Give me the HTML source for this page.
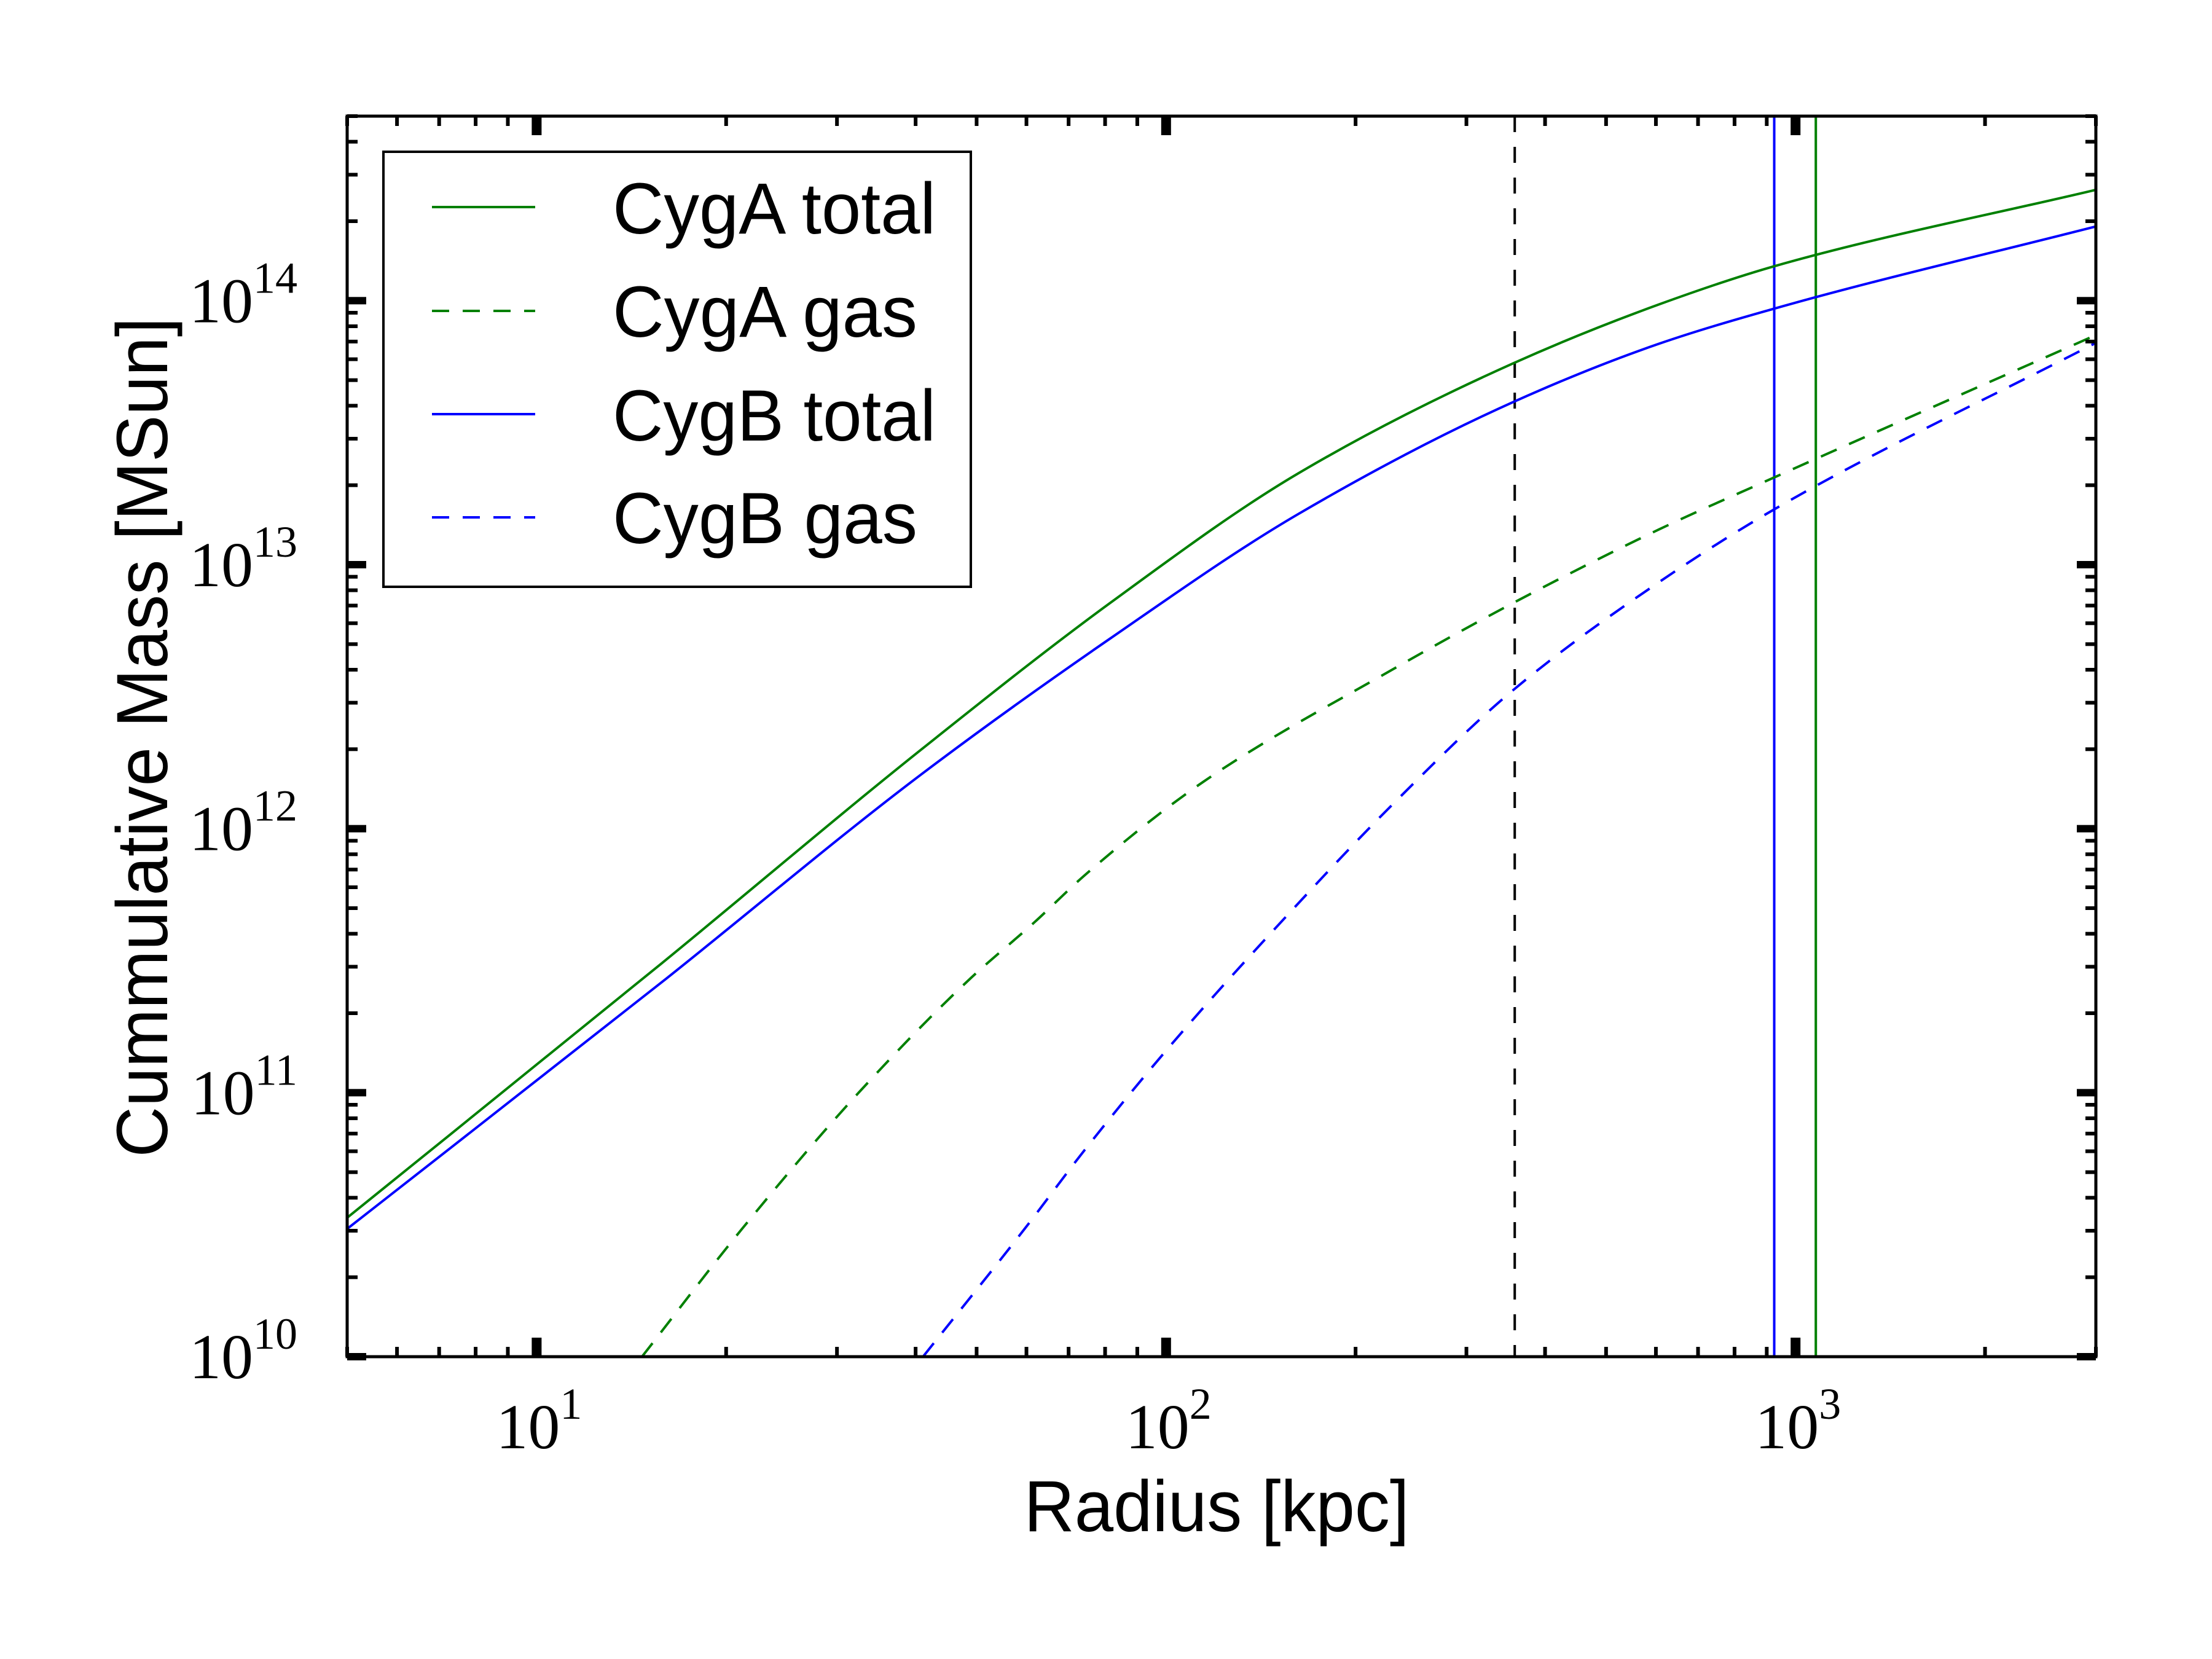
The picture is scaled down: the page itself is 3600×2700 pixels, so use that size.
<!DOCTYPE html>
<html><head><meta charset="utf-8"><style>
html,body{margin:0;padding:0;background:#fff;}
svg{display:block;}
</style></head><body>
<svg id="chart" width="3600" height="2700" viewBox="0 0 3600 2700" xmlns="http://www.w3.org/2000/svg">
<rect x="0" y="0" width="3600" height="2700" fill="#fff"/>
<defs><clipPath id="plotclip"><rect x="565" y="189" width="2846" height="2019"/></clipPath></defs>
<g id="marks" clip-path="url(#plotclip)"></g>
<g id="axes"></g>
<g id="legend">
  <rect x="624" y="247" width="956" height="708" fill="#fff" stroke="#000" stroke-width="4"/>
  <line x1="703" y1="337" x2="871" y2="337" stroke="#008000" stroke-width="4"/>
  <text x="997" y="380" font-family="Liberation Sans, sans-serif" font-size="118" textLength="526" lengthAdjust="spacingAndGlyphs">CygA total</text>
  <line x1="703" y1="506" x2="871" y2="506" stroke="#008000" stroke-width="4" stroke-dasharray="28,22"/>
  <text x="997" y="548" font-family="Liberation Sans, sans-serif" font-size="118" textLength="496" lengthAdjust="spacingAndGlyphs">CygA gas</text>
  <line x1="703" y1="674" x2="871" y2="674" stroke="#0000ff" stroke-width="4"/>
  <text x="997" y="717" font-family="Liberation Sans, sans-serif" font-size="118" textLength="526" lengthAdjust="spacingAndGlyphs">CygB total</text>
  <line x1="703" y1="842" x2="871" y2="842" stroke="#0000ff" stroke-width="4" stroke-dasharray="28,22"/>
  <text x="997" y="884" font-family="Liberation Sans, sans-serif" font-size="118" textLength="496" lengthAdjust="spacingAndGlyphs">CygB gas</text>
</g>
<text x="1980" y="2492" text-anchor="middle" font-family="Liberation Sans, sans-serif" font-size="118" textLength="627" lengthAdjust="spacingAndGlyphs">Radius [kpc]</text>
<text transform="translate(272,1200) rotate(-90)" x="0" y="0" text-anchor="middle" font-family="Liberation Sans, sans-serif" font-size="118" textLength="1367" lengthAdjust="spacingAndGlyphs">Cummulative Mass [MSun]</text>
</svg>
<script>
// ---- data ----
const cygATotalR = [5, 15.8, 40.9, 81.5, 161.8, 356, 607, 925, 3000];
const cygATotalM = [3.36e10, 3.09e11, 2.0e12, 7.16e12, 2.21e13, 5.79e13, 9.68e13, 1.35e14, 2.63e14];
const cygBTotalR = [5, 15.8, 40.9, 81.5, 161.8, 356, 607, 925, 3000];
const cygBTotalM = [3.05e10, 2.62e11, 1.61e12, 5.25e12, 1.55e13, 4.13e13, 6.87e13, 9.33e13, 1.91e14];
const cygAGasR = [14.7, 21.2, 32.6, 48.4, 61.9, 74.3, 114.8, 228.6, 356, 607, 925, 3000];
const cygAGasM = [1.0e10, 3.05e10, 1.01e11, 2.65e11, 4.44e11, 6.67e11, 1.51e12, 4.0e12, 7.16e12, 1.36e13, 2.14e13, 7.41e13];
const cygBGasR = [41.1, 59.6, 74.3, 100.9, 152.4, 228.6, 356, 607, 925, 3000];
const cygBGasM = [1.0e10, 3.05e10, 6.08e10, 1.48e11, 4.44e11, 1.23e12, 3.35e12, 8.59e12, 1.62e13, 6.92e13];
const vLineRadii = [358, 925, 1077];
const vLineNames = ['vline-black-dashed', 'vline-cygb', 'vline-cyga'];
const xTickExps = [1, 2, 3];
const yTickExps = [10, 11, 12, 13, 14];
const xDomain = [5, 3000];
const yDomain = [1e10, 5e14];

// ---- scales ----
const PL = 565, PR = 3411, PT = 189, PB = 2208;
const lx0 = Math.log10(xDomain[0]), lx1 = Math.log10(xDomain[1]);
const ly0 = Math.log10(yDomain[0]), ly1 = Math.log10(yDomain[1]);
function xs(v){ return PL + (Math.log10(v) - lx0) / (lx1 - lx0) * (PR - PL); }
function ys(v){ return PB - (Math.log10(v) - ly0) / (ly1 - ly0) * (PB - PT); }
const NS = 'http://www.w3.org/2000/svg';
const marks = document.getElementById('marks');
const axes = document.getElementById('axes');

// monotone cubic (Fritsch-Carlson) in pixel space
function smoothPath(pts){
  const n = pts.length;
  const dx = [], dy = [], m = [];
  for (let i = 0; i < n-1; i++){ dx.push(pts[i+1][0]-pts[i][0]); dy.push(pts[i+1][1]-pts[i][1]); m.push(dy[i]/dx[i]); }
  const t = [m[0]];
  for (let i = 1; i < n-1; i++){
    if (m[i-1]*m[i] <= 0) t.push(0);
    else { const w1 = 2*dx[i]+dx[i-1], w2 = dx[i]+2*dx[i-1]; t.push((w1+w2)/(w1/m[i-1]+w2/m[i])); }
  }
  t.push(m[n-2]);
  let d = 'M' + pts[0][0].toFixed(1) + ',' + pts[0][1].toFixed(1);
  for (let i = 0; i < n-1; i++){
    const h = dx[i];
    d += ' C' + (pts[i][0]+h/3).toFixed(1) + ',' + (pts[i][1]+t[i]*h/3).toFixed(1) + ' ' +
         (pts[i+1][0]-h/3).toFixed(1) + ',' + (pts[i+1][1]-t[i+1]*h/3).toFixed(1) + ' ' +
         pts[i+1][0].toFixed(1) + ',' + pts[i+1][1].toFixed(1);
  }
  return d;
}
function drawSeries(rs, ms, color, dashed, name){
  const pts = rs.map((r, i) => [xs(r), ys(ms[i])]);
  const p = document.createElementNS(NS, 'path');
  p.setAttribute('d', smoothPath(pts));
  p.setAttribute('fill', 'none');
  p.setAttribute('stroke', color);
  p.setAttribute('stroke-width', '4');
  if (dashed) p.setAttribute('stroke-dasharray', '28,22');
  
  
  marks.appendChild(p);
}
const vColors = ['#000', '#0000ff', '#008000'];
vLineRadii.forEach((r, i) => {
  const l = document.createElementNS(NS, 'line');
  l.setAttribute('x1', xs(r)); l.setAttribute('x2', xs(r));
  l.setAttribute('y1', PT); l.setAttribute('y2', PB);
  l.setAttribute('stroke', vColors[i]);
  l.setAttribute('stroke-width', '4');
  if (i === 0) l.setAttribute('stroke-dasharray', '26,24');
  
  
  marks.appendChild(l);
});
drawSeries(cygATotalR, cygATotalM, '#008000', false, 'cyga-total-line');
drawSeries(cygAGasR, cygAGasM, '#008000', true, 'cyga-gas-line');
drawSeries(cygBTotalR, cygBTotalM, '#0000ff', false, 'cygb-total-line');
drawSeries(cygBGasR, cygBGasM, '#0000ff', true, 'cygb-gas-line');

function rect(x, y, w, h, name){
  const r = document.createElementNS(NS, 'rect');
  r.setAttribute('x', x); r.setAttribute('y', y); r.setAttribute('width', w); r.setAttribute('height', h);
  r.setAttribute('fill', '#000');
  
  
  axes.appendChild(r);
}
const frame = document.createElementNS(NS, 'rect');
frame.setAttribute('x', PL); frame.setAttribute('y', PT);
frame.setAttribute('width', PR-PL); frame.setAttribute('height', PB-PT);
frame.setAttribute('fill', 'none'); frame.setAttribute('stroke', '#000'); frame.setAttribute('stroke-width', '5');


axes.appendChild(frame);

for (let e = 0; e <= 3; e++){
  for (let m = 1; m <= 9; m++){
    const v = m * Math.pow(10, e);
    if (v < xDomain[0] || v > xDomain[1]) continue;
    const x = xs(v);
    if (m === 1){
      rect(x-8, PB-31, 16, 31, 'x-major-tick');
      rect(x-8, PT, 16, 31, 'x-major-tick-top');
    } else {
      rect(x-3, PB-16, 6, 16, 'x-minor-tick');
      rect(x-3, PT, 6, 16, 'x-minor-tick-top');
    }
  }
}
for (let e = 10; e <= 14; e++){
  for (let m = 1; m <= 9; m++){
    const v = m * Math.pow(10, e);
    if (v < yDomain[0] || v > yDomain[1]) continue;
    const y = ys(v);
    if (m === 1){
      rect(PL, y-6, 31, 12, 'y-major-tick');
      rect(PR-31, y-6, 31, 12, 'y-major-tick-right');
    } else {
      rect(PL, y-3, 17, 6, 'y-minor-tick');
      rect(PR-17, y-3, 17, 6, 'y-minor-tick-right');
    }
  }
}
xTickExps.forEach(e => {
  const t = document.createElementNS(NS, 'text');
  t.setAttribute('x', xs(Math.pow(10, e)) + 4);
  t.setAttribute('y', 2357);
  t.setAttribute('text-anchor', 'middle');
  t.setAttribute('font-family', 'Liberation Serif, serif');
  t.setAttribute('font-size', '104');
  t.innerHTML = '10<tspan font-size="72" dy="-48">' + e + '</tspan>';
  
  
  axes.appendChild(t);
});
yTickExps.forEach(e => {
  const t = document.createElementNS(NS, 'text');
  t.setAttribute('x', 484);
  t.setAttribute('y', ys(Math.pow(10, e)) + 35);
  t.setAttribute('text-anchor', 'end');
  t.setAttribute('font-family', 'Liberation Serif, serif');
  t.setAttribute('font-size', '104');
  t.innerHTML = '10<tspan font-size="72" dy="-48">' + e + '</tspan>';
  
  
  axes.appendChild(t);
});
</script>
</body></html>
